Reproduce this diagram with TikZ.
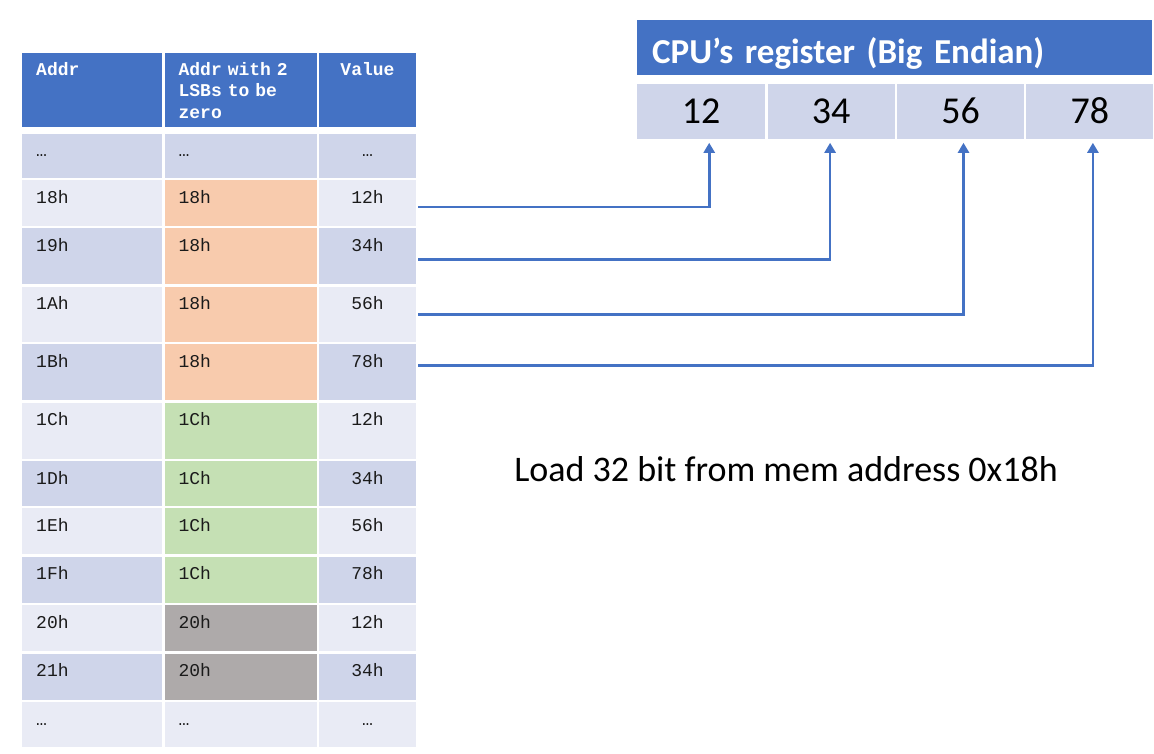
\documentclass[tikz,border=0pt]{standalone}
\usepackage{fontspec}
\usetikzlibrary{positioning,arrows.meta}
\newfontfamily\calibri{Carlito}
\newfontfamily\courier[WordSpace={1,0,0}]{Liberation Mono}
\newcommand{\cellfont}{\courier\fontsize{18}{21.5}\selectfont}
\newcommand{\hdrfont}{\courier\bfseries\fontsize{18}{21.5}\selectfont}
\newcommand{\regfont}{\calibri\fontsize{38}{44}\selectfont}
\definecolor{hdrblue}{HTML}{4472C4}
\definecolor{rowdark}{HTML}{CFD5EA}
\definecolor{rowlight}{HTML}{E9EBF5}
\definecolor{grporange}{HTML}{F8CBAD}
\definecolor{grpgreen}{HTML}{C5E0B4}
\definecolor{grpgray}{HTML}{AEAAAA}
\definecolor{celltext}{HTML}{1A1A1A}
\tikzset{
  cell/.style={rectangle, anchor=north west, inner xsep=14pt, inner ysep=0pt,
    text height=23pt, font=\cellfont, text=celltext, align=left},
  addrcol/.style={text width=112pt},
  maskcol/.style={text width=124pt},
  valcol/.style={text width=69pt, align=center},
  hcell/.style={cell, fill=hdrblue, text=white, font=\hdrfont,
    text height=22pt, text depth=52pt},
  reghdr/.style={rectangle, anchor=north west, fill=hdrblue, text=white,
    inner xsep=15pt, inner ysep=0pt, text width=485pt, align=left,
    text height=43pt, text depth=12pt,
    font=\calibri\bfseries\fontsize{35}{42}\selectfont},
  regcell/.style={rectangle, anchor=north west, inner sep=0pt, fill=rowdark,
    minimum height=55pt, font=\regfont},
  link/.style={draw=hdrblue, line width=2.7pt,
    -{Triangle[width=11pt,length=10pt]}, shorten <=2pt, shorten >=4pt}
}
\begin{document}
\begin{tikzpicture}[x=1pt,y=-1pt]
  \useasboundingbox (0,0) rectangle (1154,753);
  % table header
  \node[hcell, addrcol] (haddr) at (22,53) {Addr};
  \node[hcell, maskcol, right=2pt of haddr] (hmask) {Addr with 2 LSBs to be zero};
  \node[hcell, valcol, right=2pt of hmask] (hval) {Value};
  % memory rows
  \node[cell, addrcol, fill=rowdark, text depth=21pt, below=6pt of haddr] (a0) {…};
  \node[cell, maskcol, fill=rowdark, text depth=21pt, right=2pt of a0] (m0) {…};
  \node[cell, valcol, fill=rowdark, text depth=21pt, right=2pt of m0] (v0) {…};
  \node[cell, addrcol, fill=rowlight, text depth=23pt, below=2pt of a0] (a18) {18h};
  \node[cell, maskcol, fill=grporange, text depth=23pt, right=2pt of a18] (m18) {18h};
  \node[cell, valcol, fill=rowlight, text depth=23pt, right=2pt of m18] (v18) {12h};
  \node[cell, addrcol, fill=rowdark, text depth=33pt, below=2pt of a18] (a19) {19h};
  \node[cell, maskcol, fill=grporange, text depth=33pt, right=2pt of a19] (m19) {18h};
  \node[cell, valcol, fill=rowdark, text depth=33pt, right=2pt of m19] (v19) {34h};
  \node[cell, addrcol, fill=rowlight, text depth=32pt, below=2pt of a19] (a1A) {1Ah};
  \node[cell, maskcol, fill=grporange, text depth=32pt, right=2pt of a1A] (m1A) {18h};
  \node[cell, valcol, fill=rowlight, text depth=32pt, right=2pt of m1A] (v1A) {56h};
  \node[cell, addrcol, fill=rowdark, text depth=33pt, below=2pt of a1A] (a1B) {1Bh};
  \node[cell, maskcol, fill=grporange, text depth=33pt, right=2pt of a1B] (m1B) {18h};
  \node[cell, valcol, fill=rowdark, text depth=33pt, right=2pt of m1B] (v1B) {78h};
  \node[cell, addrcol, fill=rowlight, text depth=33pt, below=2pt of a1B] (a1C) {1Ch};
  \node[cell, maskcol, fill=grpgreen, text depth=33pt, right=2pt of a1C] (m1C) {1Ch};
  \node[cell, valcol, fill=rowlight, text depth=33pt, right=2pt of m1C] (v1C) {12h};
  \node[cell, addrcol, fill=rowdark, text depth=22pt, below=2pt of a1C] (a1D) {1Dh};
  \node[cell, maskcol, fill=grpgreen, text depth=22pt, right=2pt of a1D] (m1D) {1Ch};
  \node[cell, valcol, fill=rowdark, text depth=22pt, right=2pt of m1D] (v1D) {34h};
  \node[cell, addrcol, fill=rowlight, text depth=23pt, below=2pt of a1D] (a1E) {1Eh};
  \node[cell, maskcol, fill=grpgreen, text depth=23pt, right=2pt of a1E] (m1E) {1Ch};
  \node[cell, valcol, fill=rowlight, text depth=23pt, right=2pt of m1E] (v1E) {56h};
  \node[cell, addrcol, fill=rowdark, text depth=23pt, below=2pt of a1E] (a1F) {1Fh};
  \node[cell, maskcol, fill=grpgreen, text depth=23pt, right=2pt of a1F] (m1F) {1Ch};
  \node[cell, valcol, fill=rowdark, text depth=23pt, right=2pt of m1F] (v1F) {78h};
  \node[cell, addrcol, fill=rowlight, text depth=23pt, below=2pt of a1F] (a20) {20h};
  \node[cell, maskcol, fill=grpgray, text depth=23pt, right=2pt of a20] (m20) {20h};
  \node[cell, valcol, fill=rowlight, text depth=23pt, right=2pt of m20] (v20) {12h};
  \node[cell, addrcol, fill=rowdark, text depth=23pt, below=2pt of a20] (a21) {21h};
  \node[cell, maskcol, fill=grpgray, text depth=23pt, right=2pt of a21] (m21) {20h};
  \node[cell, valcol, fill=rowdark, text depth=23pt, right=2pt of m21] (v21) {34h};
  \node[cell, addrcol, fill=rowlight, text depth=22pt, below=2pt of a21] (aend) {…};
  \node[cell, maskcol, fill=rowlight, text depth=22pt, right=2pt of aend] (mend) {…};
  \node[cell, valcol, fill=rowlight, text depth=22pt, right=2pt of mend] (vend) {…};
  % cpu register
  \node[reghdr] (rhdr) at (637,20) {CPU’s register (Big Endian)};
  \node[regcell, minimum width=128pt, below=8pt of rhdr.south west, anchor=north west] (r12) {12};
  \node[regcell, minimum width=127pt, right=2pt of r12] (r34) {34};
  \node[regcell, minimum width=127pt, right=2pt of r34] (r56) {56};
  \node[regcell, minimum width=127pt, right=2pt of r56] (r78) {78};
  % caption
  \node[font=\calibri\fontsize{36}{43}\selectfont, anchor=base] (load) at (786,481) {Load 32 bit from mem address 0x18h};
  % loads
  \draw[link] ([yshift=-4pt]v18.east) -| ([xshift=8pt]r12.south);
  \draw[link] ([yshift=-3pt]v19.east) -| ([xshift=-1pt]r34.south);
  \draw[link] (v1A.east) -| ([xshift=3pt]r56.south);
  \draw[link] ([yshift=7pt]v1B.east) -| ([xshift=3pt]r78.south);
\end{tikzpicture}
\end{document}
